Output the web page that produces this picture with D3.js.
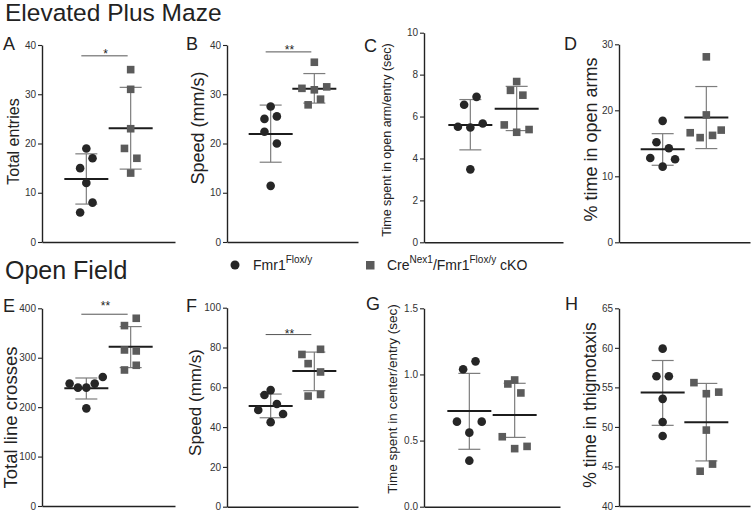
<!DOCTYPE html>
<html>
<head>
<meta charset="utf-8">
<script src="https://cdn.jsdelivr.net/npm/d3@7"></script>
<style>
  html, body { margin: 0; padding: 0; background: #fff; }
  svg { display: block; font-family: "Liberation Sans", Arial, Helvetica, sans-serif; }
</style>
</head>
<body>
<svg id="chart" width="751" height="511"></svg>
<script>
// ---------------- DATA ----------------
const sectionTitles = ["Elevated Plus Maze", "Open Field"];
const panelLetters = ["A", "B", "C", "D", "E", "F", "G", "H"];
const yLabels = [
  "Total entries", "Speed (mm/s)", "Time spent in open arm/entry (sec)", "% time in open arms",
  "Total line crosses", "Speed (mm/s)", "Time spent in center/entry (sec)", "% time in thigmotaxis"
];
const yDomains = [[0, 40], [0, 40], [0, 10], [0, 30], [0, 400], [0, 100], [0, 1.5], [40, 65]];
const yTicks = [
  [0, 10, 20, 30, 40], [0, 10, 20, 30, 40], [0, 2, 4, 6, 8, 10], [0, 10, 20, 30],
  [0, 100, 200, 300, 400], [0, 20, 40, 60, 80, 100], [0, 0.5, 1.0, 1.5], [40, 45, 50, 55, 60, 65]
];
const groups = ["ctrl", "cko"];

// Fmr1 Flox/y (circles)
const ctrlValues = [
  [19, 17, 15, 12, 8, 6],
  [27.5, 25.0, 25.5, 22.4, 20.0, 11.4],
  [6.94, 6.56, 5.51, 5.48, 5.67, 3.48],
  [18.4, 15.15, 14.24, 12.78, 12.58, 11.46],
  [247.6, 239.5, 239.5, 247.6, 261, 197.6],
  [58.6, 56.1, 51.6, 48.6, 46.6, 42.5],
  [1.099, 1.039, 0.643, 0.643, 0.56, 0.348],
  [59.9, 56.4, 56.4, 53.55, 50.63, 48.86]
];
const ctrlSlots = [
  [0, 1, -1, 0, 1, -1],
  [0, -1, 1, -1, 1, 0],
  [1, -1, -2, 0, 2, 0],
  [0, -1, 1, -2, 2, 0],
  [-2.7, -1.35, 0, 1.35, 2.65, 0],
  [0, -1, 1, -2, 2, 0],
  [1, -1, -2, 2, 0, 0],
  [0, -1, 1, 0, 0, 0]
];
const ctrlMean = [12.8, 21.95, 5.6, 14.1, 238.1, 50.6, 0.7235, 54.35];
const ctrlLow  = [7.7, 16.2, 4.41, 11.67, 216.5, 44.7, 0.434, 50.2];
const ctrlHigh = [17.9, 27.8, 6.81, 16.46, 259, 56.6, 1.008, 58.4];

// CreNex1/Fmr1 Flox/y cKO (squares)
const ckoValues = [
  [35, 31, 23, 19, 17, 14],
  [36.5, 31.2, 31.5, 30.9, 29.0, 27.85],
  [7.67, 7.25, 7.02, 5.60, 5.25, 5.38],
  [28.1, 19.3, 16.6, 17.0, 15.86, 16.2],
  [379.8, 365, 315.7, 313.7, 275.2, 284.7],
  [79.1, 76.5, 71.9, 67.7, 55.6, 56.4],
  [0.928, 0.958, 0.86, 0.529, 0.439, 0.456],
  [55.6, 54.2, 54.4, 49.6, 45.3, 44.4]
];
const ckoSlots = [
  [0, 0, 0, -1, 1, 0],
  [0, -2, 2, 0, 1, -1],
  [0, -1, 1, -2, 0, 2],
  [0, 0, -2.6, 2.4, -1, 1],
  [0.9, -1, -1, 0.9, -1, 0.9],
  [1, -2, -1, 1, -1, 1],
  [-1.1, 0, 1, -2, 0, 2],
  [-2, 0, 2, 0, 1, -1]
];
const ckoMean = [23.1, 31.1, 6.37, 18.9, 322.4, 68.2, 0.693, 50.59];
const ckoLow  = [14.8, 28.2, 5.33, 14.2, 280, 58.3, 0.524, 45.7];
const ckoHigh = [31.4, 34.2, 7.44, 23.6, 363, 77.7, 0.933, 55.5];

// significance
const sigLabels = ["*", "**", null, null, "**", "**", null, null];
const sigHeights = [37.8, 38.6, null, null, 388, 86.5, null, null];

// legend
const legendMain = ["Fmr1", "Cre", "/Fmr1", " cKO"];

// ---------------- LAYOUT ----------------
const layout = [
  {x0: 42,  x1: 175, yT: 45,   yB: 242,   lx: 3,   ly: 50,  ylx: 13,    yly: 141.5, yfs: 16,   so: 2},
  {x0: 227, x1: 358, yT: 45,   yB: 242,   lx: 186, ly: 50,  ylx: 197.5, yly: 128,   yfs: 18,   so: 2},
  {x0: 424, x1: 563, yT: 32.7, yB: 242.3, lx: 364, ly: 52,  ylx: 387,   yly: 140,   yfs: 12.5, so: 2},
  {x0: 619, x1: 750, yT: 44.3, yB: 242.3, lx: 564, ly: 50,  ylx: 591,   yly: 139.5, yfs: 18,   so: 2},
  {x0: 42,  x1: 175, yT: 308.3,yB: 506,   lx: 3,   ly: 312, ylx: 10.5,  yly: 417.5, yfs: 18.5, so: -4},
  {x0: 227, x1: 358, yT: 307.7,yB: 506.7, lx: 186, ly: 312, ylx: 195.5, yly: 402.5, yfs: 17,   so: 3},
  {x0: 424, x1: 560, yT: 308.3,yB: 506.7, lx: 366, ly: 310, ylx: 392,   yly: 399,   yfs: 13.5, so: 2},
  {x0: 619, x1: 750, yT: 308.3,yB: 506,   lx: 565, ly: 310, ylx: 590,   yly: 405,   yfs: 17.5, so: 2}
];
const slotStep = 6.2;
const circleColor = "#262626";
const squareColor = "#5b5b5b";
const errColor = "#7d7d7d";
const meanColor = "#1c1c1c";
const axisColor = "#222";
const textColor = "#222";

const svg = d3.select("#chart");

// section titles
svg.append("text").attr("x", 5).attr("y", 21).attr("font-size", 24.5).attr("fill", textColor).text(sectionTitles[0]);
svg.append("text").attr("x", 5).attr("y", 279).attr("font-size", 25).attr("fill", textColor).text(sectionTitles[1]);

panelLetters.forEach((letter, i) => {
  const L = layout[i];
  const g = svg.append("g");
  const y = d3.scaleLinear().domain(yDomains[i]).range([L.yB, L.yT]);
  const x = d3.scalePoint().domain(groups).range([L.x0, L.x1]).padding(1);

  // y axis
  const fmt = i === 6 ? d3.format(".1f") : d3.format("d");
  const ya = g.append("g").attr("transform", `translate(${L.x0},0)`)
    .call(d3.axisLeft(y).tickValues(yTicks[i]).tickFormat(fmt).tickSize(4).tickSizeOuter(0).tickPadding(2));
  ya.select(".domain").attr("stroke", axisColor).attr("stroke-width", 1.4);
  ya.selectAll(".tick line").attr("stroke", axisColor).attr("stroke-width", 1.1);
  ya.selectAll(".tick text").attr("font-size", 10).attr("fill", "#333")
    .attr("font-family", "'Liberation Sans', Arial, sans-serif");

  // x axis (no ticks)
  const xa = g.append("g").attr("transform", `translate(0,${L.yB})`)
    .call(d3.axisBottom(x).tickSize(0).tickSizeOuter(0).tickFormat(""));
  xa.select(".domain").attr("stroke", axisColor).attr("stroke-width", 1.4);

  // panel letter
  g.append("text").attr("x", L.lx).attr("y", L.ly).attr("font-size", 18).attr("fill", textColor).text(letter);

  // y label
  g.append("text")
    .attr("transform", `translate(${L.ylx},${L.yly}) rotate(-90)`)
    .attr("text-anchor", "middle").attr("dy", "0.35em")
    .attr("font-size", L.yfs).attr("fill", textColor)
    .text(yLabels[i]);

  const series = [
    {key: "ctrl", vals: ctrlValues[i], slots: ctrlSlots[i], mean: ctrlMean[i], lo: ctrlLow[i], hi: ctrlHigh[i]},
    {key: "cko", vals: ckoValues[i], slots: ckoSlots[i], mean: ckoMean[i], lo: ckoLow[i], hi: ckoHigh[i]}
  ];

  series.forEach(s => {
    const cx = x(s.key);
    // error bar
    g.append("line").attr("x1", cx).attr("x2", cx).attr("y1", y(s.lo)).attr("y2", y(s.hi))
      .attr("stroke", errColor).attr("stroke-width", 1.2);
    [s.lo, s.hi].forEach(v => {
      g.append("line").attr("x1", cx - 11).attr("x2", cx + 11).attr("y1", y(v)).attr("y2", y(v))
        .attr("stroke", errColor).attr("stroke-width", 1.2);
    });
    // mean
    g.append("line").attr("x1", cx - 22).attr("x2", cx + 22).attr("y1", y(s.mean)).attr("y2", y(s.mean))
      .attr("stroke", meanColor).attr("stroke-width", 2);
  });

  // points
  series.forEach(s => {
    const cx = x(s.key);
    const pts = s.vals.map((v, k) => ({v, slot: s.slots[k]}));
    if (s.key === "ctrl") {
      g.selectAll(null).data(pts).enter().append("circle")
        .attr("cx", d => cx + d.slot * slotStep).attr("cy", d => y(d.v)).attr("r", 4.3)
        .attr("fill", circleColor);
    } else {
      const sz = 7.6;
      g.selectAll(null).data(pts).enter().append("rect")
        .attr("x", d => cx + d.slot * slotStep - sz / 2).attr("y", d => y(d.v) - sz / 2)
        .attr("width", sz).attr("height", sz).attr("fill", squareColor);
    }
  });

  // significance
  if (sigLabels[i]) {
    const by = y(sigHeights[i]);
    const xa1 = x("ctrl") - 5, xa2 = x("cko") - 3;
    g.append("line").attr("x1", xa1).attr("x2", xa2).attr("y1", by).attr("y2", by)
      .attr("stroke", "#555").attr("stroke-width", 1);
    g.append("text").attr("x", (xa1 + xa2) / 2 + 1).attr("y", by + L.so)
      .attr("text-anchor", "middle").attr("font-size", 12).attr("fill", textColor)
      .text(sigLabels[i]);
  }
});

// legend
const lg = svg.append("g");
lg.append("circle").attr("cx", 235).attr("cy", 265).attr("r", 4.5).attr("fill", circleColor);
const t1 = lg.append("text").attr("x", 253).attr("y", 270).attr("font-size", 14).attr("fill", textColor);
t1.append("tspan").text(legendMain[0]);
t1.append("tspan").attr("font-size", 10).attr("dy", -7).text("Flox/y");
lg.append("rect").attr("x", 366).attr("y", 261).attr("width", 8.5).attr("height", 8.5).attr("fill", squareColor);
const t2 = lg.append("text").attr("x", 387).attr("y", 270).attr("font-size", 14).attr("fill", textColor);
t2.append("tspan").text(legendMain[1]);
t2.append("tspan").attr("font-size", 10).attr("dy", -7).text("Nex1");
t2.append("tspan").attr("dy", 7).text(legendMain[2]);
t2.append("tspan").attr("font-size", 10).attr("dy", -7).text("Flox/y");
t2.append("tspan").attr("dy", 7).text(legendMain[3]);
</script>
</body>
</html>
